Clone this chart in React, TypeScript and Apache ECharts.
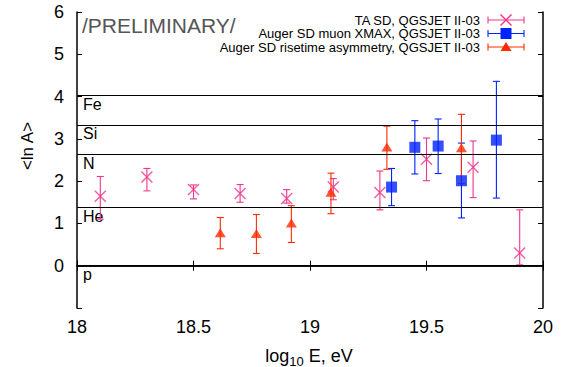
import React, { useEffect, useRef } from 'react';
import * as echarts from 'echarts';

const W = 561;
const H = 367;
const FONT = '"Liberation Sans", Arial, sans-serif';

// composition reference lines
const compNames = ['Fe', 'Si', 'N', 'He', 'p'];
const compLnA = [4.025, 3.332, 2.639, 1.386, 0];

// TA SD, QGSJET II-03
const taE = [18.1, 18.3, 18.5, 18.7, 18.9, 19.1, 19.3, 19.5, 19.7, 19.9];
const taLnA = [1.64, 2.1, 1.8, 1.71, 1.59, 1.86, 1.73, 2.52, 2.33, 0.3];
const taLo = [1.1, 1.77, 1.58, 1.5, 1.48, 1.56, 1.32, 2.01, 1.61, 0.02];
const taHi = [2.11, 2.3, 1.91, 1.92, 1.8, 2.06, 2.24, 3.02, 2.95, 1.32];

// Auger SD muon XMAX, QGSJET II-03
const muE = [19.35, 19.45, 19.55, 19.65, 19.8];
const muLnA = [1.86, 2.8, 2.83, 2.01, 2.97];
const muLo = [1.42, 2.17, 2.18, 1.13, 1.6];
const muHi = [2.3, 3.43, 3.47, 2.9, 4.36];

// Auger SD risetime asymmetry, QGSJET II-03
const rtE = [18.615, 18.77, 18.92, 19.09, 19.33, 19.65];
const rtLnA = [0.78, 0.76, 1.01, 1.74, 2.81, 2.79];
const rtLo = [0.4, 0.29, 0.55, 1.23, 2.28, 1.94];
const rtHi = [1.14, 1.21, 1.42, 2.19, 3.3, 3.58];

const seriesNames = [
  'TA SD, QGSJET II-03',
  'Auger SD muon XMAX, QGSJET II-03',
  'Auger SD risetime asymmetry, QGSJET II-03',
];

const xTicks = [18, 18.5, 19, 19.5, 20];
const yTicks = [0, 1, 2, 3, 4, 5, 6];

const PINK = '#f0358a';
const BLUE = '#0022ff';
const RED = '#ff2a00';

function errSeries(name: string, E: number[], lo: number[], hi: number[], color: string) {
  const c = 3.5;
  return {
    type: 'custom',
    name,
    silent: true,
    z: 3,
    data: E.map((e, i) => [e, lo[i], hi[i]]),
    encode: { x: 0, y: [1, 2] },
    renderItem: (params: any, api: any) => {
      const x = api.value(0);
      const p1 = api.coord([x, api.value(1)]);
      const p2 = api.coord([x, api.value(2)]);
      const style = { stroke: color, lineWidth: 1.1, fill: 'none' };
      return {
        type: 'group',
        children: [
          { type: 'line', shape: { x1: p1[0], y1: p1[1], x2: p2[0], y2: p2[1] }, style },
          { type: 'line', shape: { x1: p1[0] - c, y1: p1[1], x2: p1[0] + c, y2: p1[1] }, style },
          { type: 'line', shape: { x1: p2[0] - c, y1: p2[1], x2: p2[0] + c, y2: p2[1] }, style },
        ],
      };
    },
  };
}

function legendRow(i: number, color: string, marker: string): any[] {
  const y = 20 + i * 13.5;
  const xl = 488;
  const xr = 524;
  const xm = 506;
  const st = { stroke: color, lineWidth: 1.1 };
  const items: any[] = [
    {
      type: 'text',
      x: 480,
      y,
      style: { text: seriesNames[i], fontSize: 13, fontFamily: FONT, fill: '#000', align: 'right', verticalAlign: 'middle' },
    },
    { type: 'line', shape: { x1: xl, y1: y, x2: xr, y2: y }, style: st },
    { type: 'line', shape: { x1: xl, y1: y - 3.5, x2: xl, y2: y + 3.5 }, style: st },
    { type: 'line', shape: { x1: xr, y1: y - 3.5, x2: xr, y2: y + 3.5 }, style: st },
  ];
  if (marker === 'x') {
    items.push({ type: 'line', shape: { x1: xm - 5.5, y1: y - 5.5, x2: xm + 5.5, y2: y + 5.5 }, style: { stroke: color, lineWidth: 1.4 } });
    items.push({ type: 'line', shape: { x1: xm - 5.5, y1: y + 5.5, x2: xm + 5.5, y2: y - 5.5 }, style: { stroke: color, lineWidth: 1.4 } });
  } else if (marker === 'sq') {
    items.push({ type: 'rect', shape: { x: xm - 5.5, y: y - 5.5, width: 11, height: 11 }, style: { fill: color } });
  } else {
    items.push({ type: 'polygon', shape: { points: [[xm, y - 5], [xm - 5.5, y + 4], [xm + 5.5, y + 4]] }, style: { fill: color } });
  }
  return items;
}

export default function App() {
  const ref = useRef<HTMLDivElement>(null);
  useEffect(() => {
    document.body.style.margin = '0';
    const chart = echarts.init(ref.current!, null, { renderer: 'svg' });
    const axisLine = { show: true, lineStyle: { color: '#000', width: 1.5 } };
    const tick = { show: true, inside: true, length: 5, lineStyle: { color: '#000', width: 1 } };
    const option: any = {
      animation: false,
      backgroundColor: '#fff',
      textStyle: { fontFamily: FONT },
      grid: { left: 77, right: 18, top: 12, bottom: 59, containLabel: false },
      xAxis: [
        {
          type: 'value', min: 18, max: 20, interval: 0.5, position: 'bottom',
          axisLine, axisTick: tick, splitLine: { show: false },
          axisLabel: {
            fontSize: 18, color: '#000', margin: 10, fontFamily: FONT,
            formatter: (v: number) => (xTicks.includes(v) ? String(v) : ''),
          },
        },
        {
          type: 'value', min: 18, max: 20, interval: 0.5, position: 'top',
          axisLine, axisTick: tick, splitLine: { show: false }, axisLabel: { show: false },
        },
      ],
      yAxis: [
        {
          type: 'value', min: -1, max: 6, interval: 1, position: 'left',
          axisLine, axisTick: tick, splitLine: { show: false },
          axisLabel: {
            fontSize: 18, color: '#000', margin: 13, fontFamily: FONT,
            formatter: (v: number) => (yTicks.includes(v) ? String(v) : ''),
          },
        },
        {
          type: 'value', min: -1, max: 6, interval: 1, position: 'right',
          axisLine, axisTick: tick, splitLine: { show: false }, axisLabel: { show: false },
        },
      ],
      series: [
        {
          type: 'line',
          name: 'composition',
          data: [],
          silent: true,
          markLine: {
            silent: true,
            symbol: ['none', 'none'],
            lineStyle: { color: '#000', width: 1, type: 'solid' },
            label: { show: false },
            data: compNames.map((n, i) => ({ name: n, yAxis: compLnA[i] })),
          },
        },
        {
          type: 'custom',
          name: 'composition labels',
          silent: true,
          z: 2,
          data: compLnA.map((v, i) => [18, v, i]),
          renderItem: (params: any, api: any) => {
            const p = api.coord([api.value(0), api.value(1)]);
            return {
              type: 'text',
              x: p[0] + 6,
              y: p[1] + 1,
              style: {
                text: compNames[api.value(2)],
                fontSize: 16,
                fontFamily: FONT,
                fill: '#000',
                align: 'left',
                verticalAlign: 'top',
              },
            };
          },
        },
        errSeries(seriesNames[0] + ' err', taE, taLo, taHi, PINK),
        errSeries(seriesNames[1] + ' err', muE, muLo, muHi, BLUE),
        errSeries(seriesNames[2] + ' err', rtE, rtLo, rtHi, RED),
        {
          type: 'scatter', name: seriesNames[0], z: 4,
          symbol: 'path://M0,0L10,10M10,0L0,10', symbolSize: 11,
          itemStyle: { color: 'none', borderColor: PINK, borderWidth: 1.4 },
          data: taE.map((e, i) => [e, taLnA[i]]),
        },
        {
          type: 'scatter', name: seriesNames[1], z: 4,
          symbol: 'rect', symbolSize: 11,
          itemStyle: { color: BLUE },
          data: muE.map((e, i) => [e, muLnA[i]]),
        },
        {
          type: 'scatter', name: seriesNames[2], z: 4,
          symbol: 'triangle', symbolSize: [11, 9],
          itemStyle: { color: RED },
          data: rtE.map((e, i) => [e, rtLnA[i]]),
        },
      ],
      graphic: [
        {
          type: 'text', x: 82, y: 36,
          style: { text: '/PRELIMINARY/', fontSize: 21, fontFamily: FONT, fill: '#555', verticalAlign: 'bottom' },
        },
        {
          type: 'text', x: 27, y: 146, rotation: Math.PI / 2,
          style: { text: '<ln A>', fontSize: 17, fontFamily: FONT, fill: '#000', align: 'center', verticalAlign: 'middle' },
        },
        {
          type: 'text', x: 309, y: 356,
          style: {
            text: '{a|log}{s|10}{a| E, eV}',
            align: 'center', verticalAlign: 'middle',
            rich: {
              a: { fontSize: 18, fontFamily: FONT, color: '#000' },
              s: { fontSize: 13, fontFamily: FONT, color: '#000', padding: [10, 0, 0, 0] },
            },
          },
        },
        ...legendRow(0, PINK, 'x'),
        ...legendRow(1, BLUE, 'sq'),
        ...legendRow(2, RED, 'tri'),
      ],
    };
    chart.setOption(option);
    return () => chart.dispose();
  }, []);
  return <div ref={ref} style={{ width: W, height: H }} />;
}
